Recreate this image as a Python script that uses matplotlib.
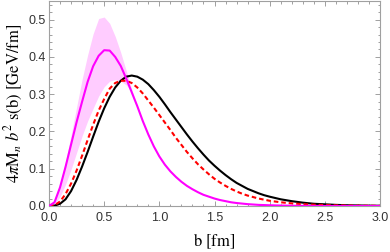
import matplotlib
matplotlib.use("Agg")
import matplotlib.pyplot as plt
from matplotlib.ticker import MultipleLocator

# impact parameter grid [fm]
b = [0.00, 0.05, 0.10, 0.15, 0.20, 0.25, 0.30, 0.35, 0.40, 0.45,
     0.50, 0.55, 0.60, 0.65, 0.70, 0.75, 0.80, 0.85, 0.90, 0.95,
     1.00, 1.05, 1.10, 1.15, 1.20, 1.25, 1.30, 1.35, 1.40, 1.45,
     1.50, 1.55, 1.60, 1.65, 1.70, 1.75, 1.80, 1.85, 1.90, 1.95,
     2.00, 2.10, 2.20, 2.30, 2.40, 2.50, 2.60, 2.70, 2.80, 2.90, 3.00]

magenta = [0.000, 0.010, 0.050, 0.105, 0.165, 0.225, 0.280, 0.333, 0.375, 0.403,
           0.418, 0.417, 0.400, 0.376, 0.342, 0.305, 0.268, 0.228, 0.192, 0.160,
           0.133, 0.111, 0.093, 0.078, 0.065, 0.054, 0.045, 0.037, 0.030, 0.025,
           0.020, 0.016, 0.013, 0.010, 0.008, 0.0065, 0.005, 0.004, 0.003, 0.0025,
           0.002, 0.0012, 0.0007, 0.0004, 0.0002, 0.0001, 0.0, 0.0, 0.0, 0.0, 0.0]

black = [0.000, 0.001, 0.006, 0.018, 0.040, 0.070, 0.106, 0.145, 0.186, 0.226,
         0.262, 0.293, 0.318, 0.336, 0.347, 0.350, 0.347, 0.339, 0.327, 0.311,
         0.293, 0.273, 0.252, 0.232, 0.212, 0.192, 0.173, 0.155, 0.138, 0.122,
         0.108, 0.095, 0.083, 0.072, 0.062, 0.054, 0.046, 0.040, 0.034, 0.029,
         0.025, 0.018, 0.013, 0.009, 0.006, 0.0045, 0.003, 0.002, 0.0015, 0.001, 0.0007]

red = [0.000, 0.002, 0.012, 0.032, 0.060, 0.095, 0.135, 0.177, 0.218, 0.256,
       0.287, 0.315, 0.330, 0.336, 0.336, 0.330, 0.318, 0.302, 0.283, 0.264,
       0.244, 0.224, 0.204, 0.183, 0.164, 0.145, 0.128, 0.112, 0.098, 0.085,
       0.073, 0.063, 0.054, 0.046, 0.039, 0.033, 0.028, 0.024, 0.020, 0.017,
       0.014, 0.010, 0.007, 0.005, 0.0035, 0.0025, 0.0017, 0.0012, 0.0008, 0.0006, 0.0004]

# uncertainty band of the magenta curve
band_b = [0.00, 0.05, 0.10, 0.15, 0.20, 0.25, 0.30, 0.35, 0.40, 0.45,
          0.50, 0.55, 0.60, 0.65, 0.70, 0.75, 0.80, 0.85]
band_hi = [0.000, 0.015, 0.060, 0.120, 0.190, 0.265, 0.340, 0.405, 0.462, 0.503,
           0.507, 0.490, 0.455, 0.412, 0.363, 0.313, 0.266, 0.228]
band_lo = [0.000, 0.005, 0.025, 0.058, 0.098, 0.143, 0.188, 0.228, 0.262, 0.295,
           0.320, 0.335, 0.339, 0.335, 0.325, 0.306, 0.270, 0.228]

plt.rcParams['mathtext.fontset'] = 'stix'

fig = plt.figure(figsize=(3.9, 2.52), dpi=100)
ax = fig.add_axes([49/390, 1-206/252, 331/390, 205/252])

ax.fill_between(band_b, band_lo, band_hi, color='#ffccff', lw=0, zorder=1)
ax.plot(b, black, color='black', lw=1.5, zorder=3)
ax.plot(b, red, color='#ff0000', lw=1.5, dashes=(2.2, 1.4), zorder=4)
ax.plot(b, magenta, color='#ff00ff', lw=1.5, zorder=5)

ax.set_xlim(0, 3.0)
ax.set_ylim(0, 0.55)

ax.xaxis.set_major_locator(MultipleLocator(0.5))
ax.xaxis.set_minor_locator(MultipleLocator(0.1))
ax.yaxis.set_major_locator(MultipleLocator(0.1))
ax.yaxis.set_minor_locator(MultipleLocator(0.02))

gray = '#a0a0a0'
for s in ax.spines.values():
    s.set_color(gray)
    s.set_linewidth(0.8)
ax.tick_params(which='both', direction='in', top=True, right=True, color=gray,
               width=0.7, labelcolor='#333333')
ax.tick_params(which='major', length=3.5, labelsize=9)
ax.tick_params(axis='y', which='major', pad=2)
ax.tick_params(axis='x', which='major', pad=4)
ax.tick_params(which='minor', length=1.8)
ax.set_xticks([0.0, 0.5, 1.0, 1.5, 2.0, 2.5, 3.0])
ax.set_xticklabels(['0.0', '0.5', '1.0', '1.5', '2.0', '2.5', '3.0'], fontfamily='Liberation Sans')
ax.set_yticks([0.0, 0.1, 0.2, 0.3, 0.4, 0.5])
ax.set_yticklabels(['0.0', '0.1', '0.2', '0.3', '0.4', '0.5'], fontfamily='Liberation Sans')

ax.set_xlabel(r'$\mathrm{b\ [fm]}$', fontsize=12, labelpad=6)
ax.set_ylabel(r'$4\pi\mathrm{M}_n\ b^2\ \mathrm{s(b)\ [GeV/fm]}$', fontsize=12, labelpad=3)

fig.savefig('out.png', dpi=100)
